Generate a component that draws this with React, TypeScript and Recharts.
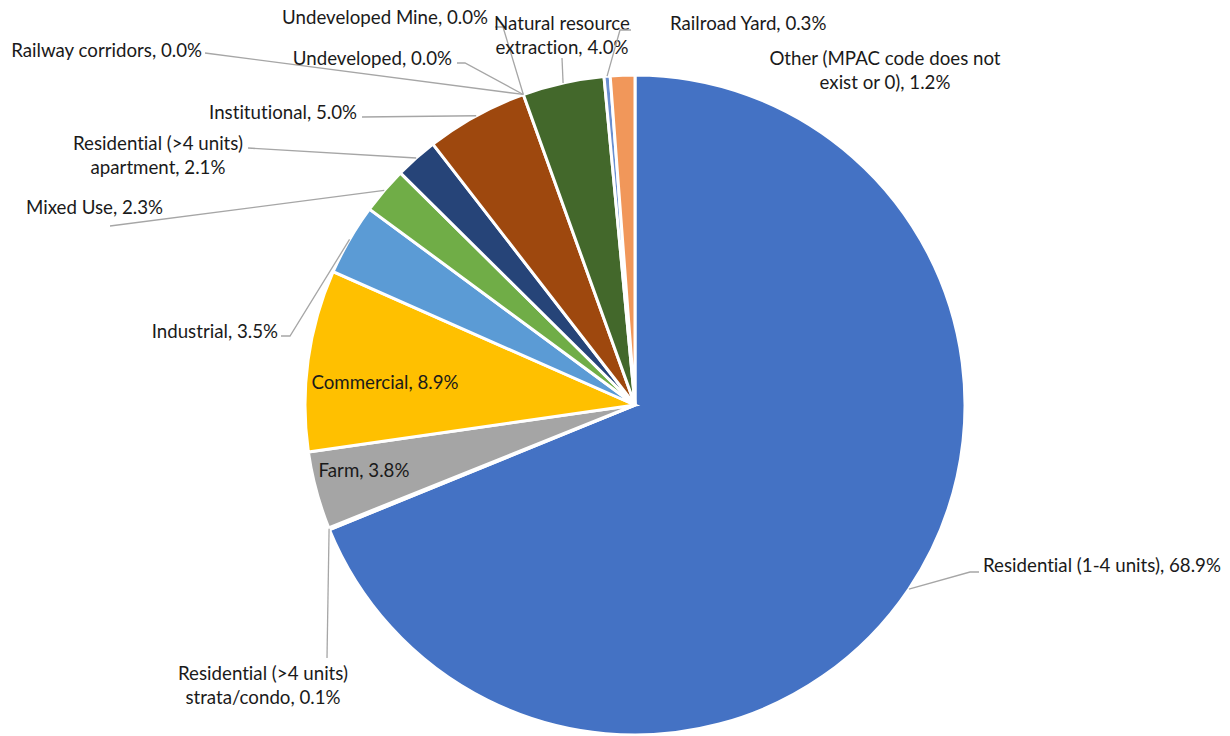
import React from 'react';
import { PieChart, Pie, Cell } from 'recharts';

const categories = [
  'Residential (1-4 units)',
  'Residential (>4 units) strata/condo',
  'Farm',
  'Commercial',
  'Industrial',
  'Mixed Use',
  'Residential (>4 units) apartment',
  'Institutional',
  'Railway corridors',
  'Undeveloped',
  'Undeveloped Mine',
  'Natural resource extraction',
  'Railroad Yard',
  'Other (MPAC code does not exist or 0)',
];

const shares = [68.9, 0.1, 3.8, 8.9, 3.5, 2.3, 2.1, 5.0, 0.0, 0.0, 0.0, 4.0, 0.3, 1.2];

const colors = [
  '#4472C4', '#ED7D31', '#A5A5A5', '#FFC000', '#5B9BD5', '#70AD47', '#264478',
  '#9E480E', '#636363', '#997300', '#255E91', '#43682B', '#698ED0', '#F1975A',
];

// label placement (annotation layout, Excel-style "best fit")
type Layout = { x: number; y: number; anchor: 'start' | 'middle' | 'end'; br?: string; leader?: number[][] };
const labelLayout: Layout[] = [
  { x: 983, y: 565, anchor: 'start', leader: [[970, 572], [979, 572]] },
  { x: 263, y: 673, anchor: 'middle', br: 'Residential (>4 units)', leader: [[327, 658]] },
  { x: 364, y: 470, anchor: 'middle' },
  { x: 385, y: 382, anchor: 'middle' },
  { x: 278, y: 331, anchor: 'end', leader: [[290, 336], [281, 336]] },
  { x: 163, y: 207, anchor: 'end', leader: [[110, 226]] },
  { x: 158, y: 143, anchor: 'middle', br: 'Residential (>4 units)', leader: [[248, 148]] },
  { x: 357, y: 112, anchor: 'end', leader: [[362, 117]] },
  { x: 202, y: 50, anchor: 'end', leader: [[205, 53]] },
  { x: 452, y: 58, anchor: 'end', leader: [[465, 63], [457, 63]] },
  { x: 488, y: 17, anchor: 'end', leader: [[503, 27], [495, 27]] },
  { x: 562, y: 23, anchor: 'middle', br: 'Natural resource', leader: [[562, 58]] },
  { x: 670, y: 23, anchor: 'start', leader: [[620, 30], [631, 30]] },
  { x: 885, y: 58, anchor: 'middle', br: 'does not' },
];

const data = categories.map((name, i) => ({ name, value: shares[i] }));

const FONT = 'Lato, sans-serif';
const FONT_SIZE = 18.7;
const LINE_H = 24;
const BASE_OFF = 6.5;
const RAD = Math.PI / 180;

const renderLabel = (props: any) => {
  const { cx, cy, midAngle, outerRadius } = props;
  const name = props.name ?? props.payload?.name;
  const idx = categories.indexOf(name);
  if (idx < 0) return null;
  const lay = labelLayout[idx];
  const full = `${name}, ${shares[idx].toFixed(1)}%`;
  let lines = [full];
  if (lay.br) {
    const p = full.indexOf(lay.br) + lay.br.length;
    lines = [full.slice(0, p).trim(), full.slice(p).trim()];
  }
  const sx = cx + outerRadius * Math.cos(-midAngle * RAD);
  const sy = cy + outerRadius * Math.sin(-midAngle * RAD);
  const pts = lay.leader ? [[sx, sy], ...lay.leader] : null;
  return (
    <g key={`lbl-${idx}`}>
      {pts && (
        <polyline
          points={pts.map((p) => p.join(',')).join(' ')}
          fill="none"
          stroke="#A6A6A6"
          strokeWidth={1.3}
        />
      )}
      {lines.map((ln, i) => (
        <text
          key={i}
          x={lay.x}
          y={lay.y + BASE_OFF + i * LINE_H}
          textAnchor={lay.anchor}
          fontFamily={FONT}
          fontSize={FONT_SIZE}
          fill="#1a1a1a"
          style={{ fontVariantLigatures: 'none' }}
        >
          {ln}
        </text>
      ))}
    </g>
  );
};

export default function App() {
  return (
    <div style={{ position: 'absolute', left: 0, top: 0, width: 1230, height: 736, background: '#fff' }}>
      <PieChart width={1230} height={736} margin={{ top: 0, right: 0, bottom: 0, left: 0 }}>
        <Pie
          data={data}
          dataKey="value"
          nameKey="name"
          cx={635}
          cy={405}
          outerRadius={330}
          startAngle={90}
          endAngle={-270}
          stroke="#ffffff"
          strokeWidth={3}
          isAnimationActive={false}
          label={renderLabel}
          labelLine={false}
        >
          {data.map((d, i) => (
            <Cell key={d.name} fill={colors[i]} />
          ))}
        </Pie>
      </PieChart>
    </div>
  );
}
